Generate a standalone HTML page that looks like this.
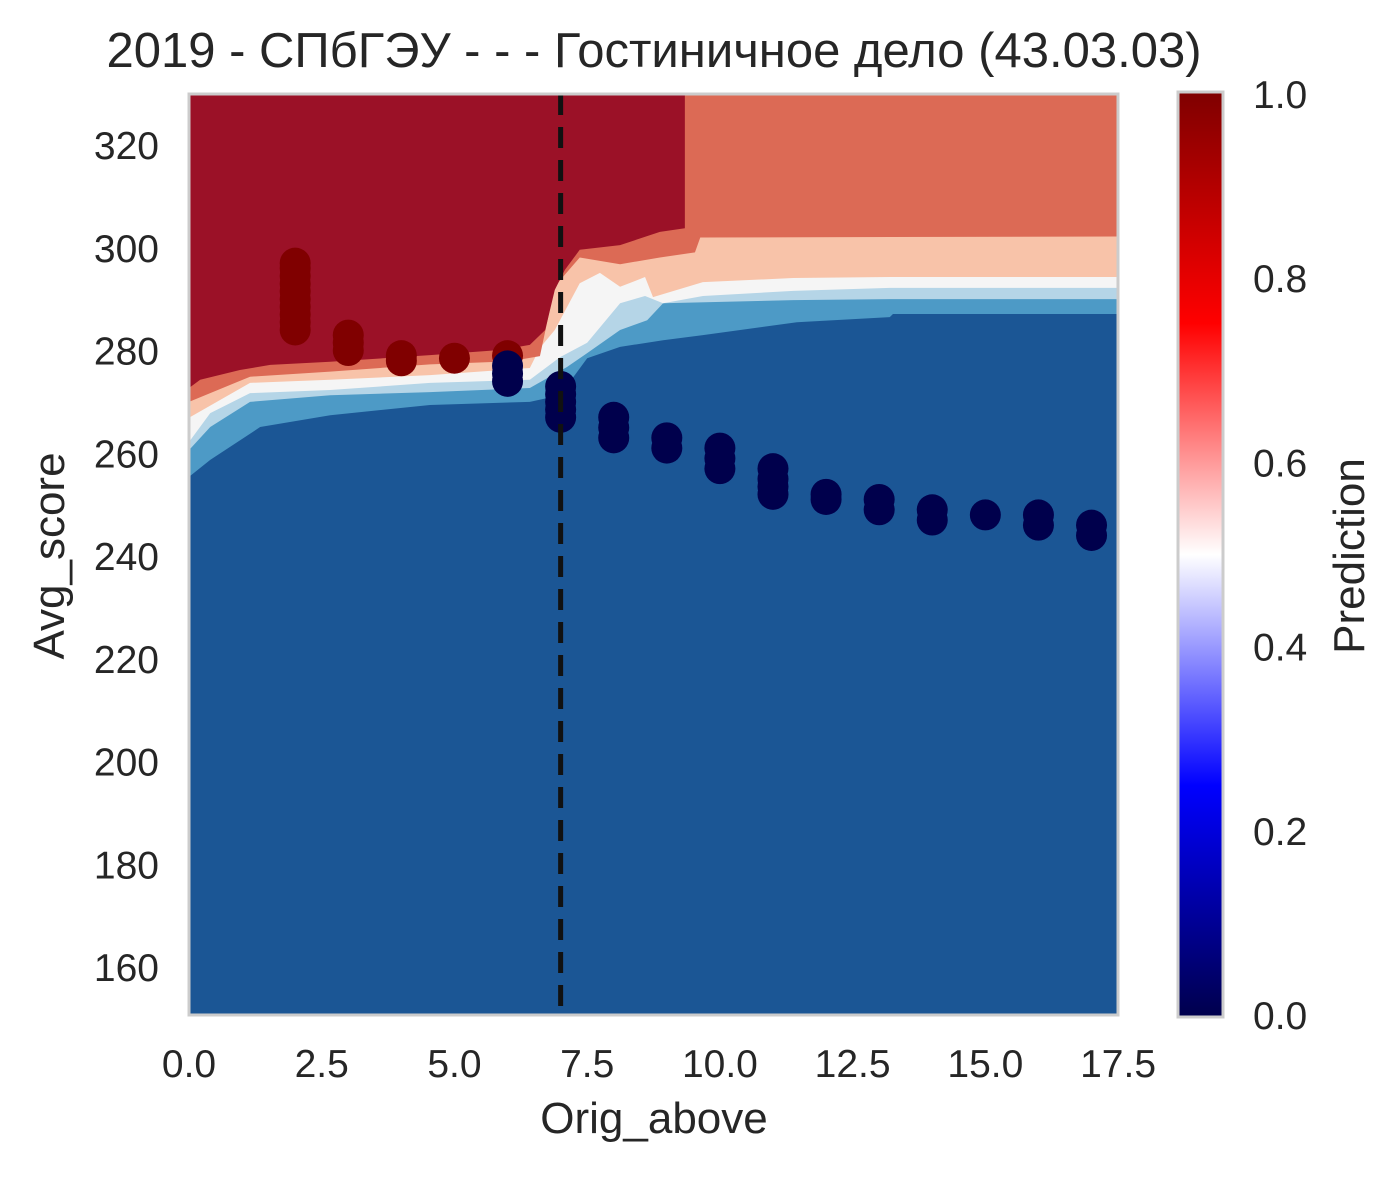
<!DOCTYPE html>
<html><head><meta charset="utf-8"><style>
body{margin:0;background:#fff;}
svg text{font-family:"Liberation Sans","DejaVu Sans",sans-serif;fill:#262626;}
</style></head><body>
<svg width="1399" height="1174" xmlns="http://www.w3.org/2000/svg">
<defs>
<linearGradient id="seis" x1="0" y1="1" x2="0" y2="0">
<stop offset="0" stop-color="#00004c"/><stop offset="0.25" stop-color="#0000ff"/><stop offset="0.5" stop-color="#ffffff"/><stop offset="0.75" stop-color="#ff0000"/><stop offset="1" stop-color="#7f0000"/>
</linearGradient>
<clipPath id="pc"><rect x="189" y="94" width="929" height="921"/></clipPath>
</defs>
<g id="bands" clip-path="url(#pc)"></g>
<g id="pts" clip-path="url(#pc)"></g>
<line id="vline" stroke="#111" stroke-width="5" stroke-dasharray="21,12"/>
<rect x="189" y="94" width="929" height="921" fill="none" stroke="#cccccc" stroke-width="3"/>
<g id="xt"></g>
<g id="yt"></g>
<text x="654" y="67" font-size="49" text-anchor="middle">2019 - СПбГЭУ - - - Гостиничное дело (43.03.03)</text>
<text x="654" y="1133" font-size="44" text-anchor="middle">Orig_above</text>
<text transform="translate(64,556) rotate(-90)" font-size="44" text-anchor="middle">Avg_score</text>
<rect x="1178" y="92" width="45" height="925" fill="url(#seis)" stroke="#cccccc" stroke-width="3"/>
<g id="ct"></g>
<text transform="translate(1364,556) rotate(-90)" font-size="44" text-anchor="middle">Prediction</text>
</svg>
<script>
const xTicks=[0,2.5,5,7.5,10,12.5,15,17.5];
const yTicks=[160,180,200,220,240,260,280,300,320];
const cTicks=[0,0.2,0.4,0.6,0.8,1.0];
const bandColors=["#4d9ac6","#b5d5e7","#f5f5f5","#f8c3a9","#dc6a55","#9b1127"];
const b6x=[0,0.4,0.68,1.34,2.66,4.54,6.42,6.99,7.5,8.12,8.93,9.68,11.45,13.2,13.26,17.6];
const b6y=[255.4,258.7,260.6,265.1,267.4,269.4,270.0,271.3,278.5,280.7,282.0,283.0,285.5,286.5,287.1,287.1];
const b5x=[0,0.4,1.15,2.66,4.54,6.42,7.12,7.5,8.12,8.63,8.93,11.38,13.2,17.6];
const b5y=[260.6,265.1,270.0,271.3,271.9,272.7,276.8,279.5,284.0,285.9,289.2,289.8,290.0,290.0];
const b4x=[0,0.4,1.15,2.66,4.54,6.42,6.99,7.5,8.12,8.59,8.93,9.68,11.38,13.2,17.6];
const b4y=[262.2,267.8,271.7,272.3,273.7,274.3,278.7,281.5,289.2,290.6,289.2,290.6,291.6,292.2,292.2];
const b3x=[0,1.15,2.66,4.54,6.42,6.61,6.89,7.36,7.74,8.12,8.59,8.74,9.68,11.38,13.2,17.6];
const b3y=[266.9,273.7,274.3,275.2,276.6,280.5,284.0,293.1,295.1,292.4,294.3,290.4,293.3,294.1,294.3,294.3];
const b2x=[0,1.15,2.66,4.54,6.05,6.61,6.89,7.36,8.12,8.87,9.53,9.63,17.6];
const b2y=[270.0,274.9,275.9,277.3,277.9,278.9,292.5,298.1,296.8,298.1,299.1,302.0,302.2];
const b1x=[0,0.21,0.96,1.53,2.66,4.54,5.86,6.42,6.71,6.89,7.08,7.36,8.12,8.87,9.34,9.34];
const b1y=[272.7,274.3,276.2,277.2,277.8,279.1,280.1,281.1,284.0,291.8,295.7,299.6,300.5,303.1,303.8,331];
const redX=[2,2,2,2,2,2,2,2,2,2,3,3,3,4,4,5,6];
const redY=[284,285.5,287,288.5,290,291.5,293,294.5,296,297,280,281.5,283,278,279,278.5,279];
const blueX=[6,6,6,7,7,7,7,7,8,8,8,9,9,10,10,10,11,11,11,11,12,12,13,13,14,14,15,16,16,17,17];
const blueY=[274,275.5,277,267,268.5,270,271.5,273,263,265,267,261,263,257,259,261,252,253.5,255,257,251,252,249,251,247,249,248,246,248,244,246];
const threshold=7;
const X=v=>189+v*53.09, Y=v=>145+(320-v)*5.1375, C=v=>1015-v*921;
const NS="http://www.w3.org/2000/svg";
function mk(tag,parent){const e=document.createElementNS(NS,tag);document.getElementById(parent).appendChild(e);return e;}
const bg=mk('rect','bands');bg.setAttribute('x',189);bg.setAttribute('y',94);bg.setAttribute('width',929);bg.setAttribute('height',921);bg.setAttribute('fill','#1b5695');


const bx=[b6x,b5x,b4x,b3x,b2x,b1x], by=[b6y,b5y,b4y,b3y,b2y,b1y];
for(let k=0;k<6;k++){
 let pts=bx[k].map((x,i)=>X(x)+','+Y(by[k][i]));
 const last=bx[k][bx[k].length-1];
 pts.push(X(last)+',80');pts.push(X(0)-5+',80');pts.push(X(0)-5+','+Y(by[k][0]));
 const p=mk('polygon','bands');p.setAttribute('points',pts.join(' '));p.setAttribute('fill',bandColors[k]);
 
 
}
function dot(x,y,col){const c=mk('circle','pts');c.setAttribute('cx',X(x));c.setAttribute('cy',Y(y));c.setAttribute('r',15.5);c.setAttribute('fill',col);
 
 }
redX.forEach((x,i)=>dot(x,redY[i],'#800000'));
blueX.forEach((x,i)=>dot(x,blueY[i],'#00004c'));
const vl=document.getElementById('vline');vl.setAttribute('x1',X(threshold));vl.setAttribute('x2',X(threshold));vl.setAttribute('y1',94);vl.setAttribute('y2',1015);
xTicks.forEach(t=>{const e=mk('text','xt');e.setAttribute('x',X(t));e.setAttribute('y',1077);e.setAttribute('font-size',39);e.setAttribute('text-anchor','middle');e.textContent=t.toFixed(1);
 
 });
yTicks.forEach(t=>{const e=mk('text','yt');e.setAttribute('x',159);e.setAttribute('y',Y(t)+14);e.setAttribute('font-size',39);e.setAttribute('text-anchor','end');e.textContent=t;
 
 });
cTicks.forEach(t=>{const e=mk('text','ct');e.setAttribute('x',1253);e.setAttribute('y',C(t)+14);e.setAttribute('font-size',39);e.textContent=t.toFixed(1);
 
 });
</script>
</body></html>
